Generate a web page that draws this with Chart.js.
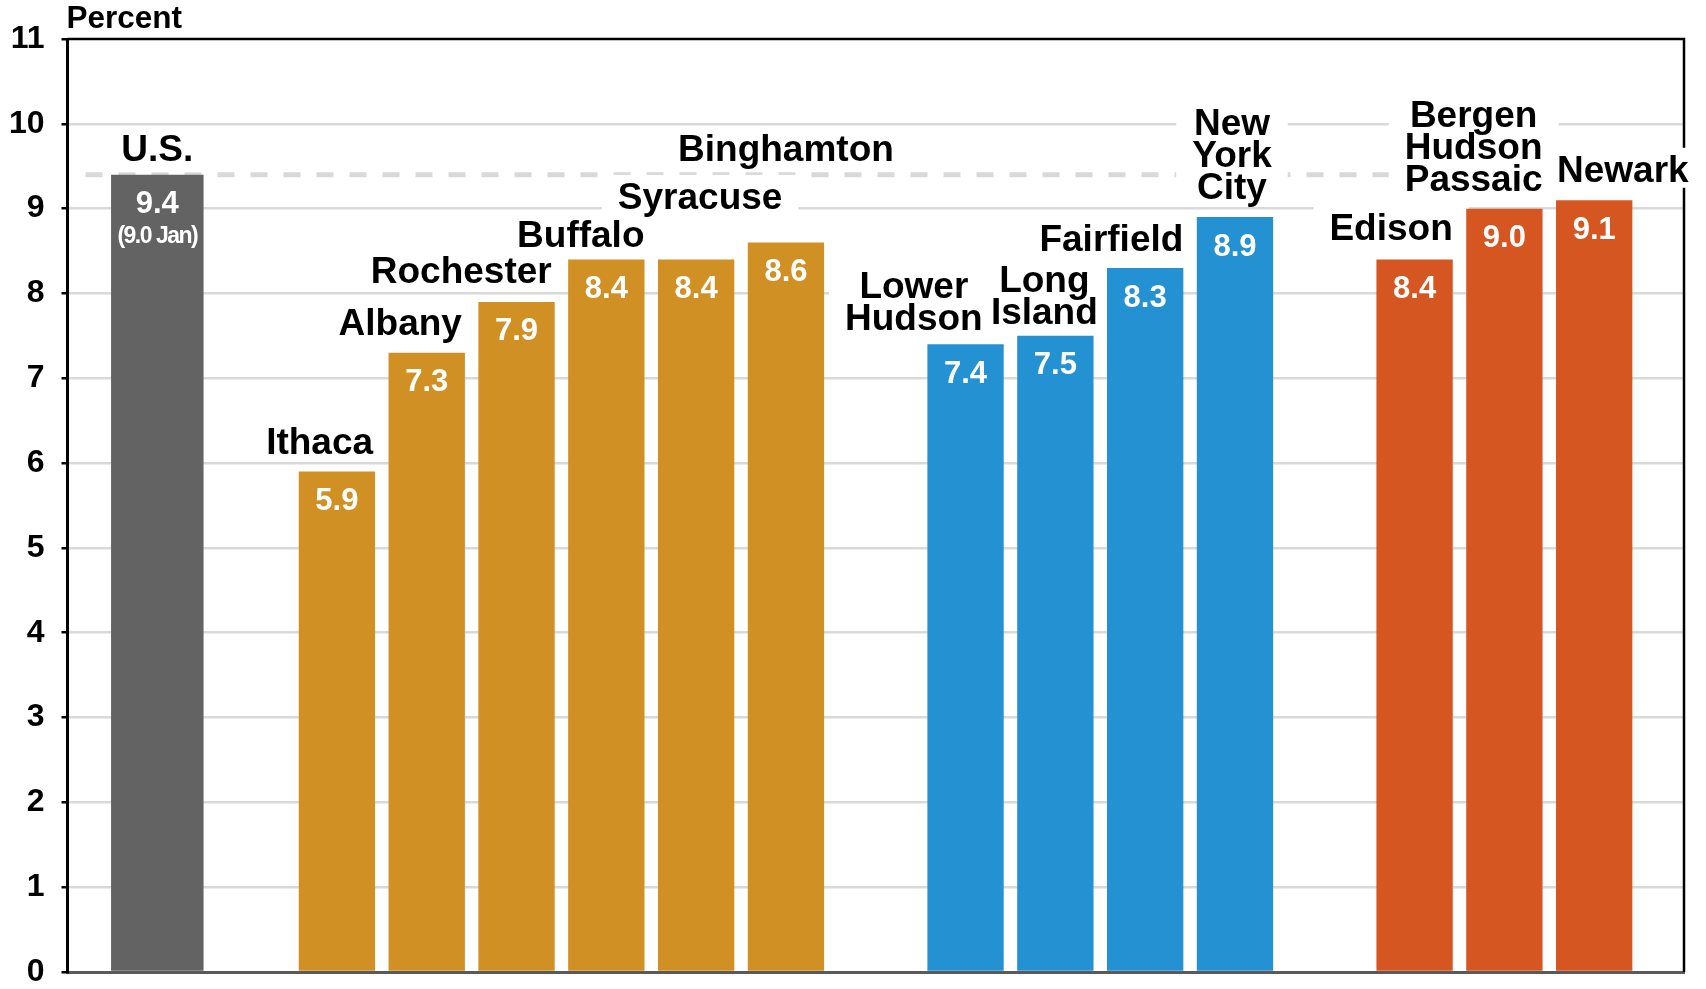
<!DOCTYPE html>
<html>
<head>
<meta charset="utf-8">
<script src="https://cdn.jsdelivr.net/npm/chart.js@4"></script>
<style>
  body { margin: 0; background: #fff; }
  canvas { display: block; }
</style>
</head>
<body>
<canvas id="rateChart" width="1706" height="989"></canvas>
<script>
// Unemployment rate, percent
const usName = ["U.S."];
const usRate = [9.4];
const usNote = "(9.0 Jan)";

const upstateNames = [["Ithaca"], ["Albany"], ["Rochester"], ["Buffalo"], ["Syracuse"], ["Binghamton"]];
const upstateRates = [5.9, 7.3, 7.9, 8.4, 8.4, 8.6];

const downstateNames = [["Lower", "Hudson"], ["Long", "Island"], ["Fairfield"], ["New", "York", "City"]];
const downstateRates = [7.4, 7.5, 8.3, 8.9];

const jerseyNames = [["Edison"], ["Bergen", "Hudson", "Passaic"], ["Newark"]];
const jerseyRates = [8.4, 9.0, 9.1];

const yTicks = [0, 1, 2, 3, 4, 5, 6, 7, 8, 9, 10, 11];

const colors = {
    us: "#636363",
    upstate: "#d19024",
    downstate: "#2492d2",
    jersey: "#d65622",
};

// build the category list with empty slots between the groups
const slots = [];
function addGap() {
    slots.push({ name: null, value: null, group: null });
}
function addGroup(names, values, group) {
    names.forEach((n, i) => slots.push({ name: n, value: values[i], group }));
}
addGap();
addGroup([usName], usRate, "us");
addGap();
addGroup(upstateNames, upstateRates, "upstate");
addGap();
addGroup(downstateNames, downstateRates, "downstate");
addGap();
addGroup(jerseyNames, jerseyRates, "jersey");
addGap();

const labels = slots.map((s) => (s.name ? s.name.join(" ") : ""));

// where each name sits: anchor to bar (c/r/l), nudge in px, centre in data units
const namePlacement = {
    "U.S.": { a: "c", dx: 0, at: 9.71 },
    "Ithaca": { a: "r", dx: -2, at: 6.26 },
    "Albany": { a: "r", dx: -3, at: 7.66 },
    "Rochester": { a: "r", dx: -3, at: 8.28 },
    "Buffalo": { a: "r", dx: 0, at: 8.7 },
    "Syracuse": { a: "c", dx: 4, at: 9.15 },
    "Binghamton": { a: "c", dx: 0, at: 9.71 },
    "Lower Hudson": { a: "r", dx: -21, at: 7.91 },
    "Long Island": { a: "c", dx: -11, at: 7.98 },
    "Fairfield": { a: "r", dx: 0, at: 8.65 },
    "New York City": { a: "c", dx: -3, at: 9.64 },
    "Edison": { a: "r", dx: 0, at: 8.78 },
    "Bergen Hudson Passaic": { a: "r", dx: 0, at: 9.74 },
    "Newark": { a: "l", dx: 1, at: 9.47 },
};

const FONT = '"Liberation Sans", Arial, sans-serif';
Chart.defaults.font.family = FONT;

const nameFont = "bold 37px " + FONT;
const lineH = 32;
const capHalf = 13;

function nameBoxes(chart) {
    const ctx = chart.ctx;
    const y = chart.scales.y;
    const out = [];
    ctx.save();
    ctx.font = nameFont;
    chart.data.datasets.forEach((ds, di) => {
        const meta = chart.getDatasetMeta(di);
        meta.data.forEach((bar, i) => {
            if (ds.data[i] == null) return;
            const lines = slots[i].name;
            const p = namePlacement[labels[i]];
            const w = Math.max(...lines.map((l) => ctx.measureText(l).width));
            let cx = bar.x;
            if (p.a === "r") cx = bar.x + bar.width / 2 - w / 2;
            if (p.a === "l") cx = bar.x - bar.width / 2 + w / 2;
            cx += p.dx;
            const cy = y.getPixelForValue(p.at);
            out.push({ lines, w, cx, cy });
        });
    });
    ctx.restore();
    return out;
}

const decorPlugin = {
    id: "decor",
    beforeDatasetsDraw(chart) {
        const { ctx, chartArea: a } = chart;
        const y = chart.scales.y;
        ctx.save();
        // U.S. reference line
        const yUs = y.getPixelForValue(usRate[0]);
        ctx.strokeStyle = "#d9d9d9";
        ctx.lineWidth = 5;
        ctx.setLineDash([17, 16]);
        ctx.beginPath();
        ctx.moveTo(a.left + 18, yUs);
        ctx.lineTo(a.right, yUs);
        ctx.stroke();
        ctx.setLineDash([]);
        // frame top and right
        ctx.strokeStyle = "#000";
        ctx.lineWidth = 2.5;
        ctx.beginPath();
        ctx.moveTo(a.left, a.top);
        ctx.lineTo(a.right, a.top);
        ctx.lineTo(a.right, a.bottom);
        ctx.stroke();
        // white boxes behind names
        ctx.fillStyle = "#fff";
        nameBoxes(chart).forEach((b) => {
            const half = ((b.lines.length - 1) / 2) * lineH;
            const top = b.cy - half - capHalf - 8;
            const bottom = b.cy + half + capHalf + 6;
            ctx.fillRect(b.cx - b.w / 2 - 16, top, b.w + 32, bottom - top);
        });
        ctx.restore();
    },
    afterDatasetsDraw(chart) {
        const { ctx, chartArea: a } = chart;
        ctx.save();
        ctx.textAlign = "center";
        // names
        ctx.textBaseline = "alphabetic";
        ctx.fillStyle = "#000";
        ctx.font = nameFont;
        nameBoxes(chart).forEach((b) => {
            const n = b.lines.length;
            b.lines.forEach((l, k) => {
                ctx.fillText(l, b.cx, b.cy + capHalf + (k - (n - 1) / 2) * lineH);
            });
        });
        // values inside bars
        ctx.textBaseline = "middle";
        ctx.fillStyle = "#fff";
        chart.data.datasets.forEach((ds, di) => {
            const meta = chart.getDatasetMeta(di);
            meta.data.forEach((bar, i) => {
                if (ds.data[i] == null) return;
                ctx.font = "bold 31px " + FONT;
                ctx.fillText(ds.data[i].toFixed(1), bar.x, bar.y + 30);
                if (slots[i].group === "us") {
                    ctx.font = "bold 23px " + FONT;
                    ctx.letterSpacing = "-1.5px";
                    ctx.fillText(usNote, bar.x, bar.y + 62);
                    ctx.letterSpacing = "0px";
                }
            });
        });
        // unit label
        ctx.fillStyle = "#000";
        ctx.textAlign = "left";
        ctx.font = "bold 31.5px " + FONT;
        ctx.fillText("Percent", a.left - 1, 19);
        ctx.restore();
    },
};

const data = {
    labels: labels,
    datasets: [
        {
            label: "U.S.",
            data: slots.map((s) => (s.group === "us" ? s.value : null)),
            backgroundColor: colors.us,
            barPercentage: 1.03,
            categoryPercentage: 1,
        },
        {
            label: "Regions",
            data: slots.map((s) => (s.group && s.group !== "us" ? s.value : null)),
            backgroundColor: slots.map((s) => colors[s.group] || "#fff"),
            barPercentage: 0.85,
            categoryPercentage: 1,
        },
    ],
};

const config = {
    type: "bar",
    data: data,
    options: {
        responsive: false,
        animation: false,
        layout: { padding: { top: 39, right: 22, bottom: 17, left: 0 } },
        datasets: { bar: { grouped: false } },
        plugins: {
            legend: { display: false },
            tooltip: { enabled: false },
        },
        scales: {
            x: {
                offset: false,
                grid: { display: false, drawTicks: false },
                ticks: { display: false },
                border: { display: true, color: "#5a5a5a", width: 3 },
                afterFit(scale) {
                    scale.height = 0;
                    scale.paddingLeft = 0;
                    scale.paddingRight = 0;
                },
            },
            y: {
                min: yTicks[0],
                max: yTicks[yTicks.length - 1],
                afterBuildTicks(scale) {
                    scale.ticks = yTicks.map((v) => ({ value: v }));
                },
                afterFit(scale) {
                    scale.width = 67.5;
                    scale.paddingTop = 0;
                    scale.paddingBottom = 0;
                },
                grid: {
                    color: (c) => (c.tick && c.tick.value === 11 ? "rgba(0,0,0,0)" : "#d9d9d9"),
                    lineWidth: 2.5,
                    tickColor: "#000",
                    tickLength: 6,
                    drawTicks: true,
                },
                border: { color: "#000", width: 3 },
                ticks: {
                    color: "#000",
                    padding: 17,
                    font: { size: 32, weight: "bold" },
                },
            },
        },
    },
    plugins: [decorPlugin],
};

new Chart(document.getElementById("rateChart").getContext("2d"), config);
</script>
</body>
</html>
